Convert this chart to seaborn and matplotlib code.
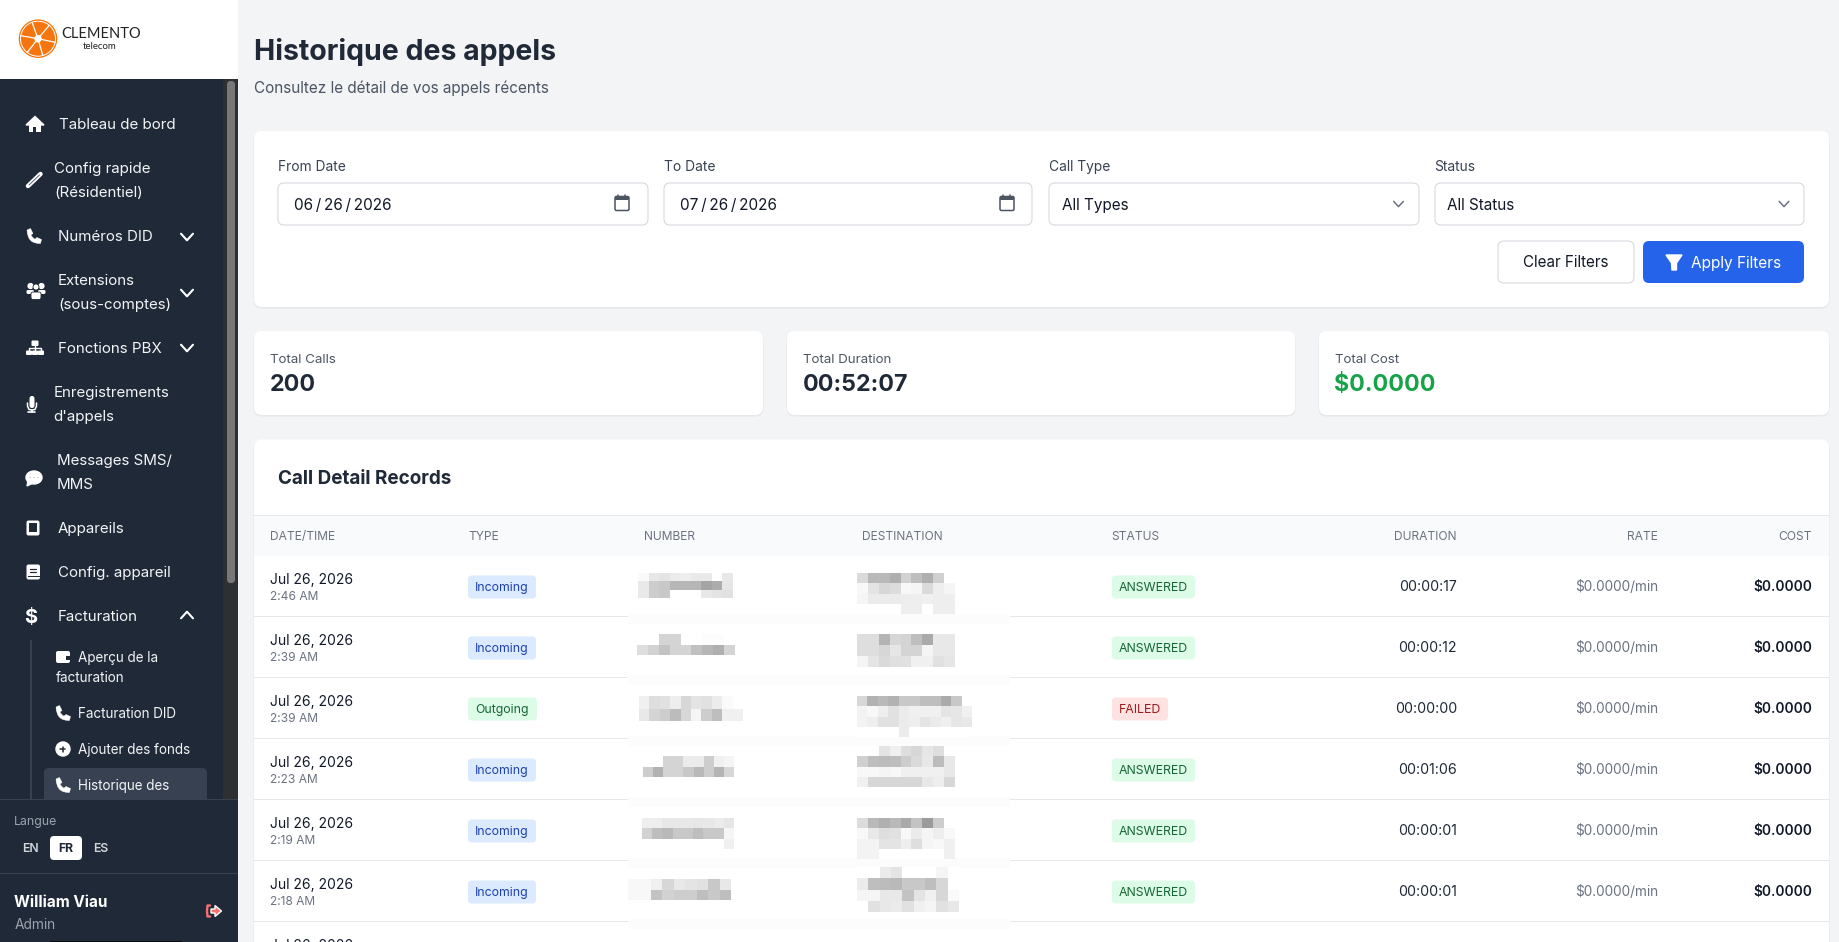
#!/usr/bin/env python3

import numpy as np
import matplotlib
matplotlib.use('Agg')
import matplotlib.pyplot as plt
import seaborn as sns
from matplotlib.patches import Circle, Ellipse, FancyBboxPatch, PathPatch, Polygon, Rectangle
from matplotlib.path import Path

W, H = 1839, 942

NAVY = '#1f2937'
SLATE = '#374151'
GREY = '#6b7280'
PAGE = '#f3f4f6'
BORDER = '#d1d5db'

# sidebar text
NAV_MAIN = [('Tableau de bord', 58.7, 124), ('Config rapide', 54.5, 168), ('(Résidentiel)', 54.5, 192),
            ('Numéros DID', 58, 236), ('Extensions', 58, 280), ('(sous-comptes)', 58, 304),
            ('Fonctions PBX', 58, 348), ('Enregistrements', 53.5, 392), ("d'appels", 53.5, 416),
            ('Messages SMS/', 56.7, 460), ('MMS', 56.7, 484), ('Appareils', 58, 528),
            ('Config. appareil', 58, 572), ('Facturation', 58, 616)]
NAV_SUB = [('Aperçu de la', 78, 657), ('facturation', 56, 677), ('Facturation DID', 78, 713),
           ('Ajouter des fonds', 78, 749), ('Historique des', 78, 785)]

# filters and totals
FILTER_LABELS = ['From Date', 'To Date', 'Call Type', 'Status']
FILTER_VALUES = ['06\u2009/\u200926\u2009/\u20092026', '07\u2009/\u200926\u2009/\u20092026', 'All Types', 'All Status']
STAT_LABELS = ['Total Calls', 'Total Duration', 'Total Cost']
STAT_VALUES = ['200', '00:52:07', '$0.0000']

# table
HEADERS = ['DATE/TIME', 'TYPE', 'NUMBER', 'DESTINATION', 'STATUS', 'DURATION', 'RATE', 'COST']
DATES = ['Jul 26, 2026'] * 7
TIMES = ['2:46 AM', '2:39 AM', '2:39 AM', '2:23 AM', '2:19 AM', '2:18 AM']
TYPES = ['Incoming', 'Incoming', 'Outgoing', 'Incoming', 'Incoming', 'Incoming']
STATUSES = ['ANSWERED', 'ANSWERED', 'FAILED', 'ANSWERED', 'ANSWERED', 'ANSWERED']
DURATIONS = ['00:00:17', '00:00:12', '00:00:00', '00:01:06', '00:00:01', '00:00:01']
RATES = ['$0.0000/min'] * 6
COSTS = ['$0.0000'] * 6

# grey levels of the pixelated number and destination cells
BLUR_NUM = [
    [[250, 232, 228, 235, 238, 233, 233, 255, 232],
     [233, 205, 200, 182, 182, 182, 165, 172, 230],
     [233, 205, 200, 255, 255, 255, 232, 228, 225]],
    [[255, 255, 212, 212, 255, 255, 252, 252, 255],
     [222, 210, 195, 212, 212, 192, 182, 175, 212]],
    [[240, 222, 225, 238, 215, 228, 225, 236, 250, 255],
     [232, 212, 205, 188, 215, 245, 205, 190, 240, 240]],
    [[255, 255, 212, 212, 235, 235, 205, 240, 245],
     [205, 178, 212, 212, 200, 185, 205, 180, 215]],
    [[238, 238, 232, 232, 232, 230, 232, 236, 230],
     [210, 190, 185, 200, 200, 190, 200, 200, 245],
     [255, 255, 255, 255, 255, 255, 255, 255, 240]],
    [[248, 248, 240, 215, 232, 228, 225, 200, 232],
     [248, 248, 195, 210, 205, 205, 190, 200, 190]],
]
BLUR_DEST = [
    [[218, 185, 185, 175, 210, 190, 175, 208, 255],
     [248, 228, 215, 220, 248, 245, 218, 238, 245],
     [245, 235, 235, 235, 238, 238, 240, 238, 238],
     [255, 255, 255, 255, 238, 238, 255, 238, 238]],
    [[222, 222, 180, 215, 212, 190, 170, 232, 232],
     [222, 222, 215, 230, 212, 212, 245, 232, 232],
     [245, 228, 218, 224, 225, 240, 240, 225, 230]],
    [[215, 178, 185, 178, 200, 200, 190, 190, 170, 200, 255],
     [243, 248, 238, 225, 235, 240, 240, 240, 228, 230, 240],
     [243, 238, 225, 225, 235, 238, 228, 235, 240, 230, 232],
     [255, 255, 255, 255, 235, 255, 255, 255, 255, 255, 255]],
    [[255, 255, 228, 240, 222, 215, 230, 222, 255],
     [208, 190, 188, 190, 205, 218, 232, 188, 232],
     [248, 248, 245, 248, 240, 240, 240, 240, 232],
     [240, 215, 215, 215, 215, 215, 232, 238, 215]],
    [[220, 185, 175, 185, 170, 195, 155, 205, 255],
     [248, 232, 222, 225, 248, 235, 245, 238, 248],
     [243, 243, 228, 228, 238, 222, 245, 248, 240],
     [243, 243, 255, 255, 255, 255, 255, 255, 240]],
    [[255, 255, 235, 228, 255, 255, 255, 245, 255],
     [235, 190, 188, 185, 200, 200, 190, 215, 255],
     [245, 245, 232, 232, 195, 228, 240, 215, 250],
     [255, 225, 232, 235, 225, 240, 245, 225, 232]],
]
BLUR_NUM_BOX = [(638, 573, 733, 598), (637, 634, 735, 655), (639, 696, 743, 721),
                (643, 756, 734, 777), (642, 818, 734, 849), (628, 879, 731, 900)]
BLUR_DEST_BOX = [(857, 573, 955, 614), (857, 634, 955, 667), (857, 696, 972, 737),
                 (857, 746, 955, 787), (857, 818, 955, 859), (857, 867, 959, 912)]

TYPE_STYLE = {'Incoming': ('#dbeafe', '#1e40af', 68), 'Outgoing': ('#dcfce7', '#166534', 69)}
STATUS_STYLE = {'ANSWERED': ('#dcfce7', '#166534', 83), 'FAILED': ('#fee2e2', '#991b1b', 56)}


def txt(ax, x, y, s, px, color=NAVY, weight='normal', ha='left', **kw):
    # y is the middle of the capitals, px the font size in image pixels
    return ax.text(x, y + 0.36 * px, s, fontsize=px * 0.72, color=color, fontweight=weight,
                   ha=ha, va='baseline', **kw)


def box(ax, x0, y0, x1, y1, r=0, fc='white', ec='none', lw=0.0, z=1):
    if r:
        p = FancyBboxPatch((x0, y0), x1 - x0, y1 - y0, boxstyle=f'round,pad=0,rounding_size={r}',
                           fc=fc, ec=ec, lw=lw, zorder=z)
    else:
        p = Rectangle((x0, y0), x1 - x0, y1 - y0, fc=fc, ec=ec, lw=lw, zorder=z)
    ax.add_patch(p)


def card(ax, x0, y0, x1, y1):
    box(ax, x0 - 0.5, y0 + 1, x1 + 0.5, y1 + 1.5, r=8, fc='#e6e8ec', z=1)
    box(ax, x0, y0, x1, y1, r=8, z=2)


def seg(ax, xs, ys, color='white', lw=2.0, z=5):
    ax.plot(xs, ys, color=color, lw=lw, solid_capstyle='round', solid_joinstyle='round', zorder=z)


def chevron(ax, x, y, up=False, size=6, color='white', lw=1.5):
    d = -size * 0.55 if up else size * 0.55
    seg(ax, [x - size, x, x + size], [y - d, y + d, y - d], color=color, lw=lw)


def phone(ax, x, y, s=1.0):
    # handset outline, ear at the top left and mouth at the bottom right
    pts = [(-7, -6), (-3.5, -7.5), (-1, -2.5), (-3, -1), (-2, 1.5), (1, 3.2), (3, 1.5), (7.5, 3.5), (6.5, 7.5),
           (-6.5, 8), (-7, -6)]
    codes = [Path.MOVETO, Path.LINETO, Path.LINETO, Path.LINETO, Path.CURVE3, Path.CURVE3, Path.LINETO,
             Path.LINETO, Path.LINETO, Path.CURVE3, Path.CURVE3]
    verts = [(x + px * s, y + py * s) for px, py in pts]
    ax.add_patch(PathPatch(Path(verts, codes), fc='white', ec='white', lw=0.3, zorder=5))


def draw_icons(ax):
    # home
    ax.add_patch(Polygon([(26, 125), (35, 116.5), (44, 125)], fc='white', zorder=5))
    box(ax, 29, 124, 41, 132, fc='white', z=5)
    box(ax, 33.5, 127, 36.5, 132, fc=NAVY, z=6)
    # pencil
    seg(ax, [28, 40.5], [186, 174], lw=3.2)
    seg(ax, [29, 39.5], [185, 175], color=NAVY, lw=0.5, z=6)
    phone(ax, 34, 236)
    # people
    for cx, cy, r in [(30.5, 286, 2.4), (41.5, 286, 2.4)]:
        ax.add_patch(Circle((cx, cy), r, fc='white', zorder=5))
    box(ax, 26.5, 290, 34, 294, r=1.5, fc='white', z=5)
    box(ax, 38, 290, 45.5, 294, r=1.5, fc='white', z=5)
    ax.add_patch(Circle((36, 287), 3, fc='white', ec=NAVY, lw=0.6, zorder=6))
    box(ax, 31, 292, 41, 299.5, r=2, fc='white', ec=NAVY, lw=0.6, z=6)
    # sitemap
    box(ax, 31.5, 340.5, 38.5, 346, r=1, fc='white', z=5)
    for cx in [29, 35, 41]:
        box(ax, cx - 3, 350.5, cx + 3, 355, r=1, fc='white', z=5)
    seg(ax, [29, 29, 41, 41], [351, 348, 348, 351], lw=1)
    seg(ax, [35, 35], [345, 351], lw=1)
    # microphone
    box(ax, 29.5, 396, 34.5, 408, r=2.4, fc='white', z=5)
    seg(ax, [27.5, 27.5, 29, 32, 35, 36.5, 36.5], [403, 406, 409.5, 410, 409.5, 406, 403], lw=1.1)
    seg(ax, [32, 32], [410, 412], lw=1.2)
    seg(ax, [28.5, 35.5], [412, 412], lw=1.2)
    # chat
    ax.add_patch(Ellipse((34, 477.5), 16, 13, fc='white', zorder=5))
    ax.add_patch(Polygon([(28, 481), (27, 486), (33, 483)], fc='white', zorder=5))
    for cx in [30, 34, 38]:
        ax.add_patch(Circle((cx, 477.5), 1.1, fc=NAVY, zorder=6))
    # tablet
    box(ax, 26.5, 520.5, 39.5, 535.5, r=2, fc='white', z=5)
    box(ax, 28.7, 522.5, 37.3, 531.5, fc=NAVY, z=6)
    # book
    box(ax, 26.5, 564.5, 40, 579.5, r=2, fc='white', z=5)
    box(ax, 28, 575.5, 40.5, 577, fc=NAVY, z=6)
    seg(ax, [30.5, 36.5], [569, 569], color=NAVY, lw=0.9, z=6)
    seg(ax, [30.5, 36.5], [572, 572], color=NAVY, lw=0.9, z=6)
    txt(ax, 31, 616, '$', 20, color='white', weight='bold', ha='center', zorder=5)
    # wallet
    box(ax, 56, 651, 70, 663, r=2, fc='white', z=5)
    box(ax, 66, 656, 70.5, 659.5, fc=NAVY, z=6)
    phone(ax, 63, 713)
    ax.add_patch(Circle((63, 749), 7, fc='white', zorder=5))
    seg(ax, [60.5, 65.5], [749, 749], color=NAVY, lw=1.1, z=6)
    seg(ax, [63, 63], [746.5, 751.5], color=NAVY, lw=1.1, z=6)
    phone(ax, 63, 785)
    # logout
    red = '#f87171'
    seg(ax, [210, 207.5, 207, 207.5, 210], [905.5, 905.5, 911, 916.5, 916.5], color=red, lw=1.7)
    ax.add_patch(Polygon([(211, 909), (215, 909), (215, 905.5), (221.5, 911), (215, 916.5), (215, 913), (211, 913)],
                         fc=red, zorder=5))


def draw_logo(ax):
    cx, cy = 38, 38.7
    ax.add_patch(Circle((cx, cy), 20, fc='#f5760f', zorder=3))
    ax.add_patch(Circle((cx, cy), 17.5, fc='none', ec='white', lw=0.7, zorder=4))
    for a in [12, 74, 128, 190, 250, 310]:
        rad = np.deg2rad(a)
        seg(ax, [cx, cx + 17.5 * np.cos(rad)], [cy, cy + 17.5 * np.sin(rad)], lw=0.9, z=4)
    ax.add_patch(Circle((cx, cy), 3, fc='white', zorder=5))
    txt(ax, 61.5, 33, 'CLEMENTO', 14.6, color='#222222', family=['Lato', 'DejaVu Sans'])
    txt(ax, 100, 45.5, 'telecom', 9.6, color='#222222', ha='center', family=['Lato', 'DejaVu Sans'])


def draw_sidebar(ax):
    box(ax, 0, 0, 238, 79, fc='white', z=1)
    box(ax, 0, 79, 238, 942, fc=NAVY, z=1)
    box(ax, 223, 79, 238, 799, fc='#2d3033', z=2)
    box(ax, 227, 81, 235, 583, r=3.5, fc='#777777', z=3)
    draw_logo(ax)
    for s, x, y in NAV_MAIN:
        txt(ax, x, y, s, 15.1, color='#f3f4f6', zorder=5)
    for y in [237, 293, 348]:
        chevron(ax, 187, y)
    chevron(ax, 187, 615, up=True)
    box(ax, 30, 640, 32, 799, fc=SLATE, z=2)
    box(ax, 44, 768, 207, 812, r=5, fc=SLATE, z=2)
    for s, x, y in NAV_SUB:
        txt(ax, x, y, s, 13.5, color='#f3f4f6', zorder=5)
    draw_icons(ax)
    # footer
    box(ax, 0, 799, 238, 942, fc=NAVY, z=3)
    box(ax, 0, 798.5, 238, 799.5, fc=SLATE, z=4)
    box(ax, 0, 872.5, 238, 873.5, fc=SLATE, z=4)
    txt(ax, 14, 821, 'Langue', 12.3, color='#9ca3af', zorder=5)
    box(ax, 50, 836, 82, 860, r=4, fc='white', z=4)
    txt(ax, 30, 848, 'EN', 12.3, color='#d1d5db', weight='semibold', ha='center', zorder=5)
    txt(ax, 66, 848, 'FR', 12.3, color=NAVY, weight='bold', ha='center', zorder=5)
    txt(ax, 101, 848, 'ES', 12.3, color='#d1d5db', weight='semibold', ha='center', zorder=5)
    txt(ax, 14.5, 901, 'William Viau', 15.3, color='white', weight='bold', zorder=5)
    txt(ax, 14.5, 924, 'Admin', 13.7, color='#9ca3af', zorder=5)
    box(ax, 50, 940.5, 182, 942, fc='#0b0b0b', z=5)


def calendar(ax, x, y):
    box(ax, x - 7, y - 6.5, x + 7, y + 7.5, r=1.5, fc='none', ec='#4b5563', lw=1.1, z=5)
    box(ax, x - 7, y - 6.5, x + 7, y - 3, r=1, fc='#4b5563', z=5)
    seg(ax, [x - 3.5, x - 3.5], [y - 8.5, y - 6], color='#4b5563', lw=1.1)
    seg(ax, [x + 3.5, x + 3.5], [y - 8.5, y - 6], color='#4b5563', lw=1.1)


def draw_filters(ax):
    txt(ax, 254, 50, 'Historique des appels', 28.5, weight='bold')
    txt(ax, 254, 87, 'Consultez le détail de vos appels récents', 15.3, color='#4b5563')
    card(ax, 254, 131, 1829, 307)
    spans = [(278, 648), (664, 1032), (1049, 1419), (1435, 1804)]
    value_x = [294.5, 680, 1062.5, 1447.5]
    label_x = [278, 664, 1049, 1434]
    for (x0, x1), lx, lab, val, vx in zip(spans, label_x, FILTER_LABELS, FILTER_VALUES, value_x):
        txt(ax, lx, 166, lab, 13.8, color=SLATE, zorder=5)
        box(ax, x0, 183, x1, 225, r=6, fc='white', ec=BORDER, lw=0.7, z=3)
        txt(ax, vx, 204, val, 15.3, color='#111827', zorder=5)
    calendar(ax, 622, 203)
    calendar(ax, 1007, 203)
    chevron(ax, 1398.5, 204, size=4.8, color='#6b7280', lw=1.1)
    chevron(ax, 1784, 204, size=4.8, color='#6b7280', lw=1.1)
    box(ax, 1498, 241, 1634, 283, r=6, fc='white', ec=BORDER, lw=0.7, z=3)
    txt(ax, 1566, 262, 'Clear Filters', 15.2, color='#111827', ha='center', zorder=5)
    box(ax, 1643, 241, 1804, 283, r=6, fc='#2563eb', z=3)
    ax.add_patch(Polygon([(1666, 255), (1682, 255), (1676.5, 263), (1676.5, 270), (1672, 270), (1671.5, 263)],
                         fc='white', zorder=5))
    txt(ax, 1691, 262, 'Apply Filters', 15.4, color='white', zorder=5)

    cards = [(254, 763), (787, 1295), (1319, 1829)]
    colors = [NAVY, NAVY, '#16a34a']
    for (x0, x1), lab, val, col in zip(cards, STAT_LABELS, STAT_VALUES, colors):
        card(ax, x0, 331, x1, 415)
        txt(ax, x0 + 16.5, 358, lab, 13.3, color='#4b5563', zorder=5)
        txt(ax, x0 + 15.5, 383, val, 23.2, color=col, weight='bold', zorder=5)


def draw_table(ax):
    card(ax, 254, 439.5, 1829, 1000)
    txt(ax, 278, 477, 'Call Detail Records', 18.9, weight='bold', zorder=5)
    box(ax, 254, 515, 1829, 556, fc='#f9fafb', z=3)
    box(ax, 254, 514.5, 1829, 515.5, fc='#e5e7eb', z=4)

    left = [270, 468, 644, 862, 1111]
    right = [1457, 1658, 1812]
    for x, s in zip(left + right, HEADERS):
        txt(ax, x, 536, s, 12.0, color=GREY, ha='left' if x in left else 'right', zorder=5)

    for i in range(6):
        top = 556 + 61 * i
        mid = top + 30
        line = top + 60
        box(ax, 254, line - 0.5, 1829, line + 0.5, fc='#e5e7eb', z=3)
        box(ax, 628, line - 2, 1010, line + 8, fc='#fcfcfc', z=4)
        txt(ax, 270, top + 23, DATES[i], 13.9, color='#111827', zorder=5)
        txt(ax, 270, top + 40, TIMES[i], 12.0, color=GREY, zorder=5)

        fc, tc, w = TYPE_STYLE[TYPES[i]]
        box(ax, 468, top + 19.5, 468 + w, top + 42.5, r=4, fc=fc, z=4)
        txt(ax, 468 + w / 2, top + 30.5, TYPES[i], 12.3, color=tc, ha='center', zorder=5)
        fc, tc, w = STATUS_STYLE[STATUSES[i]]
        box(ax, 1112, top + 19.5, 1112 + w, top + 42.5, r=4, fc=fc, z=4)
        txt(ax, 1112 + w / 2, top + 30.5, STATUSES[i], 12.3, color=tc, ha='center', zorder=5)

        txt(ax, 1457, mid, DURATIONS[i], 14.2, color=NAVY, ha='right', zorder=5)
        txt(ax, 1658, mid, RATES[i], 13.6, color=GREY, ha='right', zorder=5)
        txt(ax, 1812, mid, COSTS[i], 13.8, color='#111827', weight='semibold', ha='right', zorder=5)
    txt(ax, 270, 945, DATES[6], 13.9, color='#111827', zorder=5)


def draw_blur(fig, grid, bbox):
    # each pixelated cell is a small heatmap on its own axes
    x0, y0, x1, y1 = bbox
    sub = fig.add_axes([x0 / W, 1 - y1 / H, (x1 - x0) / W, (y1 - y0) / H])
    sns.heatmap(np.array(grid), vmin=0, vmax=255, cmap='gray', cbar=False,
                xticklabels=False, yticklabels=False, ax=sub)
    sub.set_axis_off()


if __name__ == '__main__':
    sns.set_theme(style='white')
    plt.rcParams['font.family'] = ['Inter', 'DejaVu Sans']

    fig = plt.figure(figsize=(W / 100, H / 100), dpi=100, facecolor=PAGE)
    ax = fig.add_axes([0, 0, 1, 1])
    ax.set_xlim(0, W)
    ax.set_ylim(H, 0)
    ax.set_axis_off()

    draw_sidebar(ax)
    draw_filters(ax)
    draw_table(ax)
    for grid, bbox in zip(BLUR_NUM + BLUR_DEST, BLUR_NUM_BOX + BLUR_DEST_BOX):
        draw_blur(fig, grid, bbox)

    fig.savefig('out.png', dpi=100, facecolor=PAGE)
    plt.close('all')
